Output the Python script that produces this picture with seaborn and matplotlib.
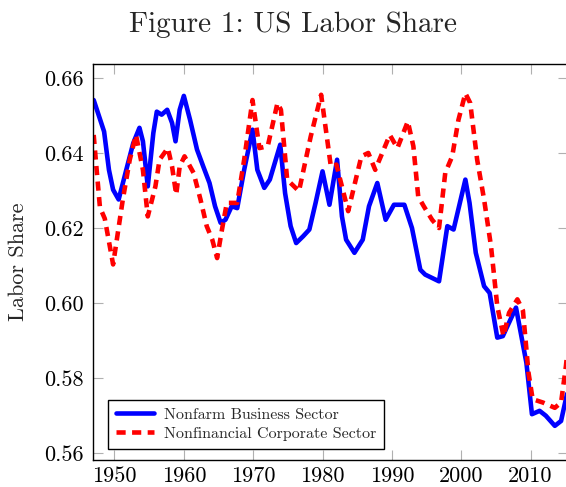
import numpy as np
import pandas as pd
import matplotlib
matplotlib.use("Agg")
import matplotlib.pyplot as plt
import seaborn as sns

# Nonfarm Business Sector
years_nb = [1947.0, 1948.5, 1949.2, 1949.8, 1950.6, 1951.7, 1952.7, 1953.6, 1954.1, 1954.8,
            1955.6, 1956.1, 1956.8, 1957.6, 1958.3, 1958.8, 1959.4, 1960.0, 1960.9, 1961.9,
            1962.8, 1963.7, 1964.5, 1965.3, 1966.0, 1966.9, 1967.7, 1968.7, 1969.9, 1970.6,
            1971.6, 1972.4, 1973.9, 1974.6, 1975.4, 1976.2, 1977.2, 1978.1, 1979.0, 1980.0,
            1981.0, 1982.1, 1982.8, 1983.4, 1984.6, 1985.8, 1986.7, 1987.9, 1989.1, 1990.3,
            1991.8, 1992.9, 1994.1, 1994.8, 1996.8, 1998.0, 1998.9, 2000.6, 2001.2, 2002.1,
            2003.3, 2004.1, 2005.2, 2006.0, 2007.9, 2009.4, 2010.2, 2011.3, 2012.2, 2013.5,
            2014.4, 2015.4]
nonfarm = [0.6541, 0.6457, 0.6355, 0.6302, 0.6276, 0.6355, 0.6426, 0.6467, 0.6431, 0.6311,
           0.6453, 0.6510, 0.6502, 0.6515, 0.6480, 0.6431, 0.6515, 0.6552, 0.6488, 0.6409,
           0.6364, 0.6320, 0.6258, 0.6214, 0.6222, 0.6258, 0.6253, 0.6355, 0.6462, 0.6355,
           0.6307, 0.6329, 0.6422, 0.6293, 0.6205, 0.6160, 0.6178, 0.6196, 0.6267, 0.6351,
           0.6262, 0.6382, 0.6231, 0.6169, 0.6134, 0.6169, 0.6258, 0.6320, 0.6222, 0.6262,
           0.6262, 0.6200, 0.6089, 0.6076, 0.6058, 0.6205, 0.6196, 0.6329, 0.6267, 0.6134,
           0.6045, 0.6027, 0.5908, 0.5912, 0.5988, 0.5841, 0.5704, 0.5713, 0.5700, 0.5673,
           0.5686, 0.5770]

# Nonfinancial Corporate Sector
years_nc = [1947.0, 1947.3, 1947.9, 1948.6, 1949.8, 1951.2, 1952.2, 1953.1, 1954.1, 1954.8,
            1955.9, 1956.5, 1957.7, 1958.3, 1958.9, 1959.4, 1960.1, 1961.4, 1962.4, 1963.3,
            1964.1, 1964.8, 1965.5, 1966.2, 1967.7, 1968.7, 1969.9, 1970.9, 1972.1, 1973.5,
            1974.0, 1974.9, 1976.6, 1978.3, 1979.8, 1981.2, 1982.0, 1983.7, 1985.6, 1986.6,
            1987.6, 1989.7, 1990.8, 1992.3, 1993.1, 1993.8, 1994.6, 1995.8, 1996.8, 1997.7,
            1998.7, 1999.6, 2000.6, 2001.3, 2002.3, 2003.3, 2004.3, 2005.2, 2006.1, 2006.9,
            2008.1, 2008.9, 2009.7, 2010.3, 2011.8, 2013.5, 2014.4, 2015.1, 2015.4]
nonfin = [0.6448, 0.6382, 0.6255, 0.6225, 0.6103, 0.6276, 0.6382, 0.6448, 0.6355, 0.6231,
          0.6311, 0.6382, 0.6413, 0.6364, 0.6289, 0.6364, 0.6391, 0.6347, 0.6276, 0.6205,
          0.6169, 0.6120, 0.6196, 0.6267, 0.6267, 0.6382, 0.6541, 0.6413, 0.6418, 0.6533,
          0.6515, 0.6329, 0.6298, 0.6444, 0.6555, 0.6364, 0.6369, 0.6245, 0.6391, 0.6400,
          0.6355, 0.6448, 0.6413, 0.6484, 0.6418, 0.6284, 0.6258, 0.6222, 0.6200, 0.6347,
          0.6391, 0.6488, 0.6559, 0.6533, 0.6382, 0.6276, 0.6151, 0.5992, 0.5912, 0.5974,
          0.6010, 0.5980, 0.5815, 0.5744, 0.5735, 0.5721, 0.5735, 0.5832, 0.5886]

xticks = [1950, 1960, 1970, 1980, 1990, 2000, 2010]
yticks = [0.56, 0.58, 0.60, 0.62, 0.64, 0.66]
ytick_labels = ["0.56", "0.58", "0.60", "0.62", "0.64", "0.66"]

sns.set_theme(style="white")
plt.rcParams["font.family"] = ["cmr10", "DejaVu Serif"]
plt.rcParams["axes.formatter.use_mathtext"] = True
plt.rcParams["mathtext.fontset"] = "cm"

fig = plt.figure(figsize=(5.66, 4.87), dpi=100)
ax = fig.add_axes([93 / 566, 1 - 460 / 487, 475 / 566, 396 / 487])

sns.lineplot(x=years_nb, y=nonfarm, ax=ax, color="#0000ff", lw=3.3,
             solid_joinstyle="round", solid_capstyle="round",
             label="Nonfarm Business Sector")
sns.lineplot(x=years_nc, y=nonfin, ax=ax, color="#ff0000", lw=3.3,
             linestyle=(0, (2.0, 1.4)), label="Nonfinancial Corporate Sector")

ax.set_xlim(1946.9, 2015.4)
ax.set_ylim(0.5582, 0.6637)
ax.set_xticks(xticks)
ax.set_xticklabels([str(t) for t in xticks])
ax.set_yticks(yticks)
ax.set_yticklabels(ytick_labels)
ax.tick_params(direction="in", length=7, width=0.8, color="#b0b0b0",
               labelsize=16, labelcolor="black", top=True, right=True,
               bottom=True, left=True)
ax.tick_params(axis="y", pad=7)
ax.tick_params(axis="x", pad=5)
for s in ax.spines.values():
    s.set_color("black")
    s.set_linewidth(1.0)

ax.set_ylabel("Labor Share", fontsize=16)
ax.yaxis.set_label_coords(-0.137, 0.5)

leg = ax.legend(loc="lower left", bbox_to_anchor=(0.031, 0.028), borderaxespad=0,
                fontsize=11.5, frameon=True, fancybox=False, handlelength=2.4,
                handletextpad=0.6, edgecolor="black", framealpha=1,
                borderpad=0.5, labelspacing=0.3)
leg.get_frame().set_linewidth(1.0)

fig.text(293 / 566, 1 - 25 / 487, "Figure 1: US Labor Share", ha="center",
         va="center", fontsize=21)

fig.savefig("out.png", dpi=100)
